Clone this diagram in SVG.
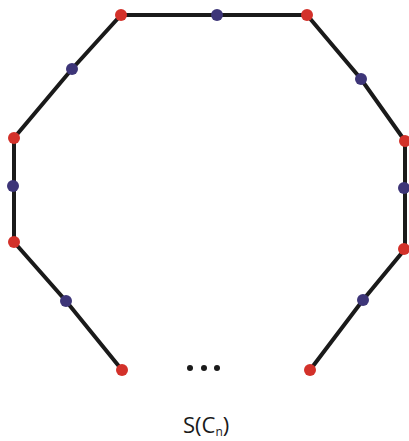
<svg xmlns="http://www.w3.org/2000/svg" width="409" height="441" viewBox="0 0 409 441">
<style>
.e{stroke:#1a1a1a;stroke-width:4;fill:none;stroke-linecap:round}
.r{fill:#d3312a}
.b{fill:#3d3578}
.k{fill:#1a1a1a}
text{font-family:"Open Sans","Liberation Sans",sans-serif;fill:#1a1a1a}
</style>
<rect width="409" height="441" fill="#fff"/>
<g id="edges">
<polyline class="e" points="122,370 66,301 14,242 14,186 14,138 72,69 121,15 217,15 307,15 361,79 405,141 405,188 405,249 363,300 310,370"/>
</g>
<g id="v1"><circle class="r" cx="121" cy="15" r="6"/></g>
<g id="v2"><circle class="r" cx="307" cy="15" r="6"/></g>
<g id="v3"><circle class="r" cx="14" cy="138" r="6"/></g>
<g id="v4"><circle class="r" cx="405" cy="141" r="6"/></g>
<g id="v5"><circle class="r" cx="14" cy="242" r="6"/></g>
<g id="v6"><circle class="r" cx="404" cy="249" r="6"/></g>
<g id="v7"><circle class="r" cx="122" cy="370" r="6"/></g>
<g id="v8"><circle class="r" cx="310" cy="370" r="6"/></g>
<g id="s1"><circle class="b" cx="217" cy="15" r="6"/></g>
<g id="s2"><circle class="b" cx="72" cy="69" r="6"/></g>
<g id="s3"><circle class="b" cx="361" cy="79" r="6"/></g>
<g id="s4"><circle class="b" cx="13" cy="186" r="6"/></g>
<g id="s5"><circle class="b" cx="404" cy="188" r="6"/></g>
<g id="s6"><circle class="b" cx="66" cy="301" r="6"/></g>
<g id="s7"><circle class="b" cx="363" cy="300" r="6"/></g>
<g id="dots">
<circle class="k" cx="190" cy="368" r="3"/>
<circle class="k" cx="204" cy="368" r="3"/>
<circle class="k" cx="217" cy="368" r="3"/>
</g>
<g id="label">
<text x="183" y="433" font-size="22">S(C<tspan font-size="12" dy="3">n</tspan><tspan dy="-3" font-size="22">)</tspan></text>
</g>
</svg>
